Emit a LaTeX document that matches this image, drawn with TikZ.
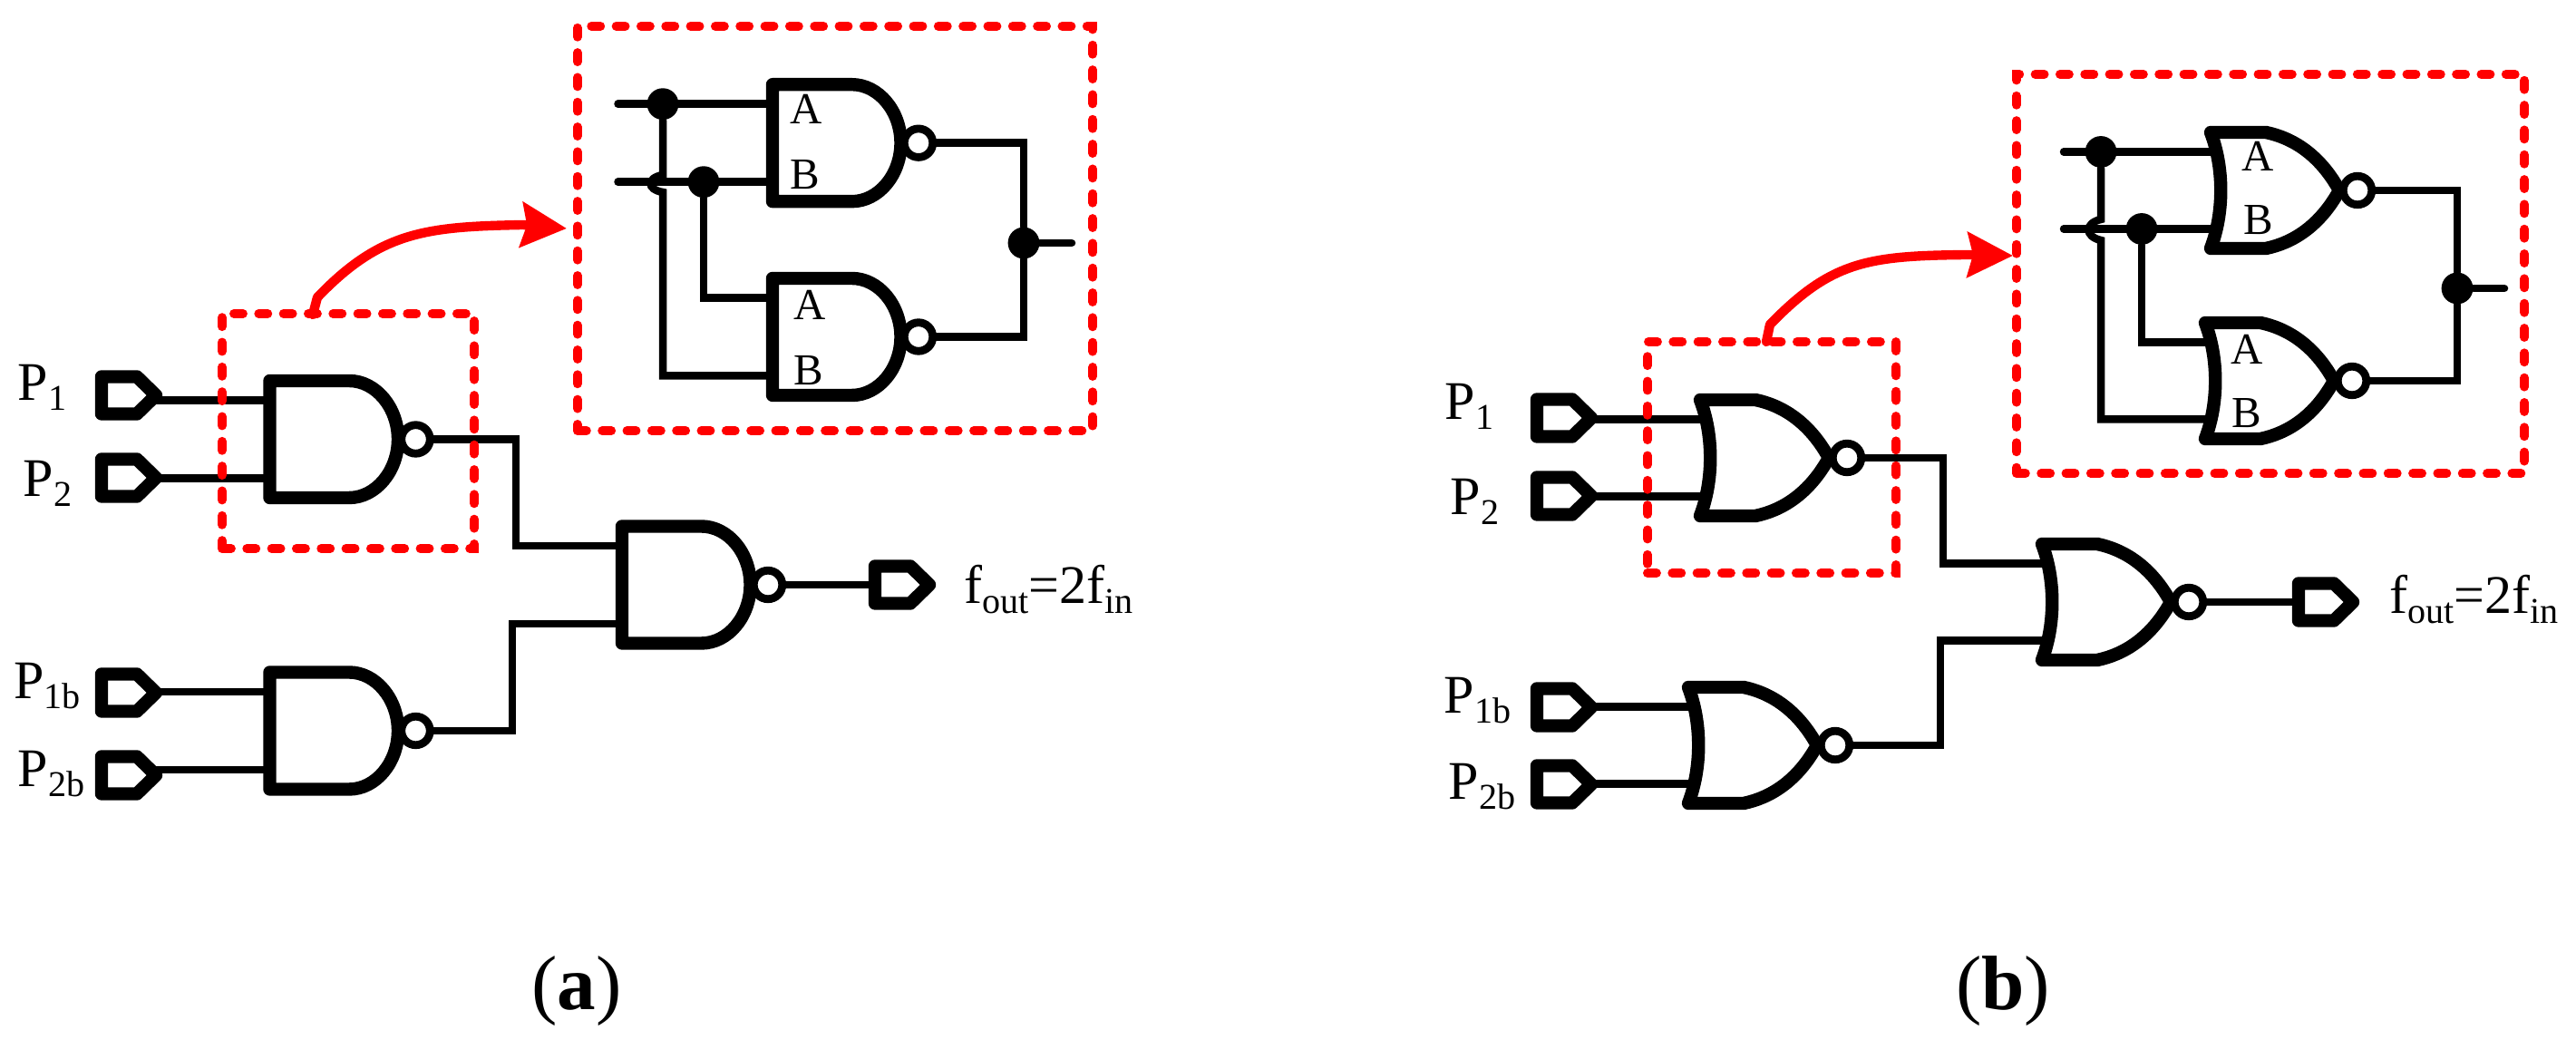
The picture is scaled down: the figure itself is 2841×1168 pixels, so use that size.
\documentclass[tikz,border=0pt]{standalone}
\usepackage{fontspec}
\setmainfont{Liberation Serif}
\usetikzlibrary{arrows.meta}
\newcommand{\sbx}[1]{\raisebox{-2.85pt}{\fontsize{11.4pt}{12pt}\selectfont #1}}
\tikzset{
  wire/.style={line width=2.42pt, line cap=round},
  gateline/.style={line width=4.1pt, line join=round},
  bubble/.style={line width=2.5pt, fill=white},
  jdot/.style={circle, fill=black, inner sep=0pt, minimum size=9.9pt},
  lbl/.style={anchor=base west, inner sep=0pt, font=\fontsize{17.07pt}{20pt}\selectfont},
  pinlbl/.style={anchor=base west, inner sep=0pt, font=\fontsize{13.9pt}{16pt}\selectfont},
  caplbl/.style={anchor=base, inner sep=0pt, font=\fontsize{24.2pt}{28pt}\selectfont},
  redbox/.style={draw=red, line width=2.8pt, line cap=round, inner sep=0pt, dash pattern=on 2.85pt off 4.92pt},
  redarrow/.style={draw=red, line width=2.95pt, line cap=round, line join=round, -{Stealth[length=14.2pt, width=14pt, inset=1.7pt]}},
  pinport/.pic={
    \draw[gateline] (0,0) -- (-21,-20.5) -- (-60,-20.5) -- (-60,20.5) -- (-21,20.5) -- cycle;
    \coordinate (-tip) at (0,0);
    \coordinate (-back) at (-60,0);
  },
  nandgate/.pic={
    \draw[gateline] (0,-64.5) -- (87.5,-64.5) .. controls (117,-64.5) and (141.5,-35) .. (141.5,0)
      .. controls (141.5,35) and (117,64.5) .. (87.5,64.5) -- (0,64.5) -- cycle;
    \draw[bubble] (161,0) circle (15.75);
    \coordinate (-a) at (0,-43);
    \coordinate (-b) at (0,43);
    \coordinate (-out) at (177,0);
  },
  norgate/.pic={
    \draw[gateline] (0,-64) -- (61,-64) .. controls (90,-58) and (120,-40) .. (142,0)
      .. controls (120,40) and (90,58) .. (61,64) -- (0,64)
      .. controls (15,25) and (15,-25) .. (0,-64) -- cycle;
    \draw[bubble] (162,0) circle (15.75);
    \coordinate (-a) at (7,-42.5);
    \coordinate (-b) at (7,42.5);
    \coordinate (-out) at (178,0);
  },
}
\begin{document}
\begin{tikzpicture}[x=0.01cm, y=-0.01cm]
  \useasboundingbox (0,0) rectangle (2841,1168);

  % (a) nand version
  \foreach \pn/\py/\lx/\ly/\tx in {pa1/436/19/442/1, pa2/527/25/548/2, pa3/764/14.5/771/1b, pa4/855/19/868/2b}{
    \pic (\pn) at (172,\py) {pinport};
    \node[lbl] (t\pn) at (\lx,\ly) {P\sbx{\tx}};
  }
  \pic (ga1) at (297.5,484.5) {nandgate};
  \pic (ga2) at (297.5,806) {nandgate};
  \pic (ga3) at (686,645) {nandgate};
  \pic (pa5) at (1025,645) {pinport};
  \node[lbl] (tfa) at (1063,666) {f\sbx{out}=2f\sbx{in}};

  \draw[wire] (pa1-tip |- ga1-a) -- (ga1-a);
  \draw[wire] (pa2-tip |- ga1-b) -- (ga1-b);
  \draw[wire] (pa3-tip |- ga2-a) -- (ga2-a);
  \draw[wire] (pa4-tip |- ga2-b) -- (ga2-b);
  \draw[wire] (ga1-out) -- (569,484.5) |- (ga3-a);
  \draw[wire] (ga2-out) -- (565,806) |- (ga3-b);
  \draw[wire] (ga3-out) -- (pa5-back);

  % inset of (a)
  \pic (ia1) at (852,157.7) {nandgate};
  \pic (ia2) at (852,371.5) {nandgate};
  \coordinate (ina1) at (681.5,114.7);
  \coordinate (ina2) at (681.5,200.7);
  \coordinate (hopa1) at (731,193);
  \coordinate (hopa2) at (731,212);
  \coordinate (outa) at (1182,268);
  \node[jdot] (da1) at (731,114.7) {};
  \node[jdot] (da2) at (776,200.7) {};
  \node[jdot] (da3) at (1129,268) {};
  \draw[wire] (ina1) -- (ia1-a);
  \draw[wire] (ina2) -- (ia1-b);
  \draw[wire] (da1) -- (hopa1) .. controls (713,196) and (713,209) .. (hopa2) |- (ia2-b);
  \draw[wire] (da2) |- (ia2-a);
  \draw[wire] (ia1-out) -| (da3);
  \draw[wire] (ia2-out) -| (da3);
  \draw[wire] (da3) -- (outa);
  \node[pinlbl] (la1) at (871,137) {A};
  \node[pinlbl] (lb1) at (871,209) {B};
  \node[pinlbl] (la2) at (875,353) {A};
  \node[pinlbl] (lb2) at (875,425) {B};

  % (b) nor version
  \foreach \pn/\py/\lx/\ly/\tx in {pb1/461/1593/463/1, pb2/547/1599/568/2, pb3/780/1592/787/1b, pb4/865/1597/882/2b}{
    \pic (\pn) at (1755,\py) {pinport};
    \node[lbl] (t\pn) at (\lx,\ly) {P\sbx{\tx}};
  }
  \pic (gb1) at (1875,505) {norgate};
  \pic (gb2) at (1862,822) {norgate};
  \pic (gb3) at (2252,664) {norgate};
  \pic (pb5) at (2595,664) {pinport};
  \node[lbl] (tfb) at (2635,677) {f\sbx{out}=2f\sbx{in}};

  \draw[wire] (pb1-tip |- gb1-a) -- (gb1-a);
  \draw[wire] (pb2-tip |- gb1-b) -- (gb1-b);
  \draw[wire] (pb3-tip |- gb2-a) -- (gb2-a);
  \draw[wire] (pb4-tip |- gb2-b) -- (gb2-b);
  \draw[wire] (gb1-out) -- (2143,505) |- (gb3-a);
  \draw[wire] (gb2-out) -- (2140,822) |- (gb3-b);
  \draw[wire] (gb3-out) -- (pb5-back);

  % inset of (b)
  \pic (ib1) at (2438,210) {norgate};
  \pic (ib2) at (2432,420) {norgate};
  \coordinate (inb1) at (2276,167.5);
  \coordinate (inb2) at (2276,252.5);
  \coordinate (hopb1) at (2317,242);
  \coordinate (hopb2) at (2317,265);
  \coordinate (outb) at (2762,318);
  \node[jdot] (db1) at (2317,167.5) {};
  \node[jdot] (db2) at (2362,252.5) {};
  \node[jdot] (db3) at (2710,318) {};
  \draw[wire] (inb1) -- (ib1-a);
  \draw[wire] (inb2) -- (ib1-b);
  \draw[wire] (db1) -- (hopb1) .. controls (2299,246) and (2299,261) .. (hopb2) |- (ib2-b);
  \draw[wire] (db2) |- (ib2-a);
  \draw[wire] (ib1-out) -| (db3);
  \draw[wire] (ib2-out) -| (db3);
  \draw[wire] (db3) -- (outb);
  \node[pinlbl] (la3) at (2472,189) {A};
  \node[pinlbl] (lb3) at (2474,259) {B};
  \node[pinlbl] (la4) at (2460,402) {A};
  \node[pinlbl] (lb4) at (2461,472) {B};

  % red boxes and arrows on top
  \node[redbox, minimum width=2.78cm, minimum height=2.59cm] (boxa) at (384,475.5) {};
  \node[redbox, minimum width=5.68cm, minimum height=4.46cm] (insa) at (921,252) {};
  \node[redbox, minimum width=2.74cm, minimum height=2.55cm] (boxb) at (1954,504.5) {};
  \node[redbox, minimum width=5.60cm, minimum height=4.40cm] (insb) at (2504,302) {};
  \coordinate (arra) at (345,347);
  \coordinate (tipa) at (625,252);
  \coordinate (arrb) at (1948,377);
  \coordinate (tipb) at (2220,282);
  \draw[redarrow] (arra) -- (350,328) .. controls (420,255) and (470,250) .. (577,248) -- (tipa);
  \draw[redarrow] (arrb) -- (1952,358) .. controls (2020,288) and (2060,282) .. (2170,281) -- (tipb);

  % captions
  \node[caplbl] (capa) at (636,1114) {(\textbf{a})};
  \node[caplbl] (capb) at (2209,1114) {(\textbf{b})};
\end{tikzpicture}
\end{document}
